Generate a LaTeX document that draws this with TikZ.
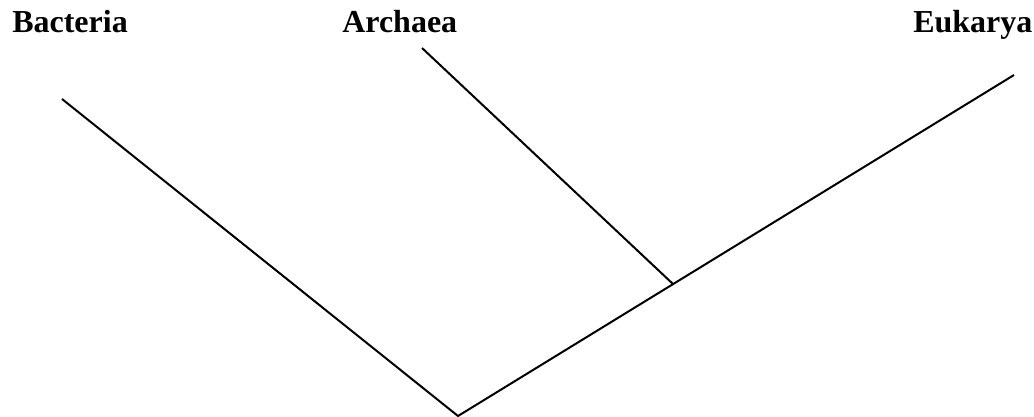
\documentclass[tikz,border=0pt]{standalone}
\usepackage{fontspec}
\setmainfont{Liberation Serif}
\begin{document}
\begin{tikzpicture}[x=0.75pt,y=-0.75pt,
  branch/.style={line width=1.5pt,line cap=butt},
  taxon/.style={font=\fontsize{24}{28}\selectfont\bfseries,anchor=base west,inner sep=0pt}]
\useasboundingbox (0,0) rectangle (1034,417);
\node[taxon] (bac) at (12,33) {Bacteria};
\node[taxon] (arc) at (342,33) {Archaea};
\node[taxon] (euk) at (913,33) {Eukarya};
\coordinate (root) at (458,416);
\coordinate (btip) at (62,99);
\coordinate (atip) at (422,48);
\coordinate (etip) at (1014,75);
\coordinate (junc) at (673,284);
\draw[branch] (btip) -- (root) -- (etip);
\draw[branch] (atip) -- (junc);
\end{tikzpicture}
\end{document}
